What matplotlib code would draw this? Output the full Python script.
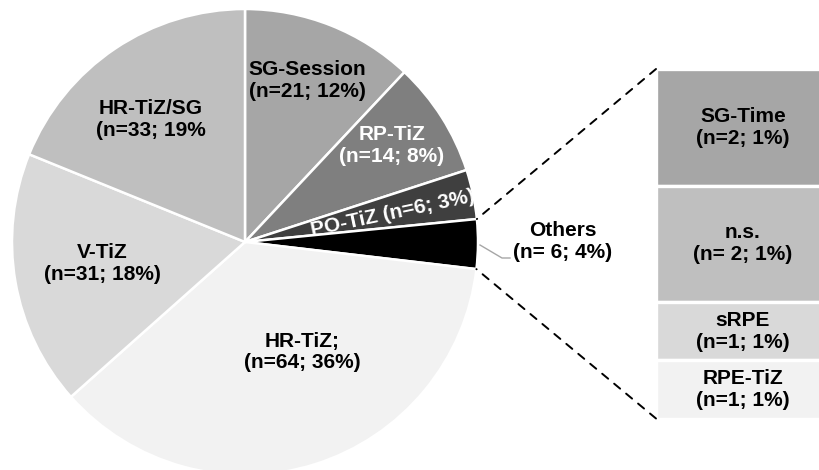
import matplotlib
matplotlib.use("Agg")
import matplotlib.pyplot as plt
from matplotlib.patches import ConnectionPatch
import numpy as np

plt.rcParams['font.family'] = ['Liberation Sans', 'DejaVu Sans']

# Main pie (clockwise from 12 o'clock)
pie_labels = ["SG-Session", "RP-TiZ", "PO-TiZ", "Others", "HR-TiZ;", "V-TiZ", "HR-TiZ/SG"]
pie_counts = [21, 14, 6, 6, 64, 31, 33]
pie_pcts = ["12%", "8%", "3%", "4%", "36%", "18%", "19%"]
pie_colors = ["#a6a6a6", "#7f7f7f", "#3f3f3f", "#000000", "#f2f2f2", "#d9d9d9", "#bfbfbf"]

# Breakdown of "Others" (top to bottom)
sub_labels = ["SG-Time", "n.s.", "sRPE", "RPE-TiZ"]
sub_counts = [2, 2, 1, 1]
sub_pcts = ["1%", "1%", "1%", "1%"]
sub_colors = ["#a6a6a6", "#bfbfbf", "#d9d9d9", "#f2f2f2"]

W, H = 820, 470
fig = plt.figure(figsize=(W / 100, H / 100), dpi=100)
ax = fig.add_axes([0, 0, 1, 1])

cx, cy, R = 245, 228, 233
wedges, _ = ax.pie(pie_counts, colors=pie_colors, startangle=90, counterclock=False,
                   center=(cx, cy), radius=R, frame=True,
                   wedgeprops=dict(edgecolor="white", linewidth=1.8))
ax.set_xlim(0, W)
ax.set_ylim(0, H)
ax.set_aspect("equal")
ax.set_axis_off()

fs = 15
tk = dict(fontsize=fs, fontweight="bold", ha="center", va="center", linespacing=1.2)

ax.text(307, 390, f"{pie_labels[0]}\n(n={pie_counts[0]}; {pie_pcts[0]})", color="black", **tk)
ax.text(392, 324, f"{pie_labels[1]}\n(n={pie_counts[1]}; {pie_pcts[1]})", color="white", **tk)
ax.text(393, 257, f"{pie_labels[2]} (n={pie_counts[2]}; {pie_pcts[2]})", color="white",
        rotation=12, rotation_mode="anchor", **tk)
ax.text(563, 229, f"{pie_labels[3]}\n(n= {pie_counts[3]}; {pie_pcts[3]})", color="black", **tk)
ax.text(302, 118, f"{pie_labels[4]}\n(n={pie_counts[4]}; {pie_pcts[4]})", color="black", **tk)
ax.text(102, 207, f"{pie_labels[5]}\n(n={pie_counts[5]}; {pie_pcts[5]})", color="black", **tk)
ax.text(151, 350, f"{pie_labels[6]}\n(n={pie_counts[6]}; {pie_pcts[6]}", color="black", **tk)

# Leader line for "Others"
ax.plot([480, 502, 510], [225, 212, 212], color="#a6a6a6", lw=1.0)

# Stacked bar for the "Others" breakdown
ax2 = fig.add_axes([656 / W, 51.5 / H, 174 / W, 349.5 / H])
total = sum(sub_counts)
bottom = total
for lab, n, p, c in zip(sub_labels, sub_counts, sub_pcts, sub_colors):
    bottom -= n
    ax2.bar(0, n, bottom=bottom, width=1.0, color=c, edgecolor="white", linewidth=2.4)
    sep = "n= " if lab == "n.s." else "n="
    ax2.text(0, bottom + n / 2, f"{lab}\n({sep}{n}; {p})", color="black", **tk)
ax2.set_xlim(-0.5, 0.5)
ax2.set_ylim(0, total)
ax2.set_axis_off()

# Dashed connectors from the "Others" wedge to the bar
th1, th2 = wedges[3].theta1, wedges[3].theta2
for th, yb in [(th2, total), (th1, 0)]:
    xa = cx + R * np.cos(np.radians(th))
    ya = cy + R * np.sin(np.radians(th))
    con = ConnectionPatch(xyA=(-0.5, yb), coordsA=ax2.transData,
                          xyB=(xa, ya), coordsB=ax.transData,
                          color="black", linestyle=(0, (4, 4)), linewidth=1.4)
    fig.add_artist(con)

fig.savefig("out.png", dpi=100)
